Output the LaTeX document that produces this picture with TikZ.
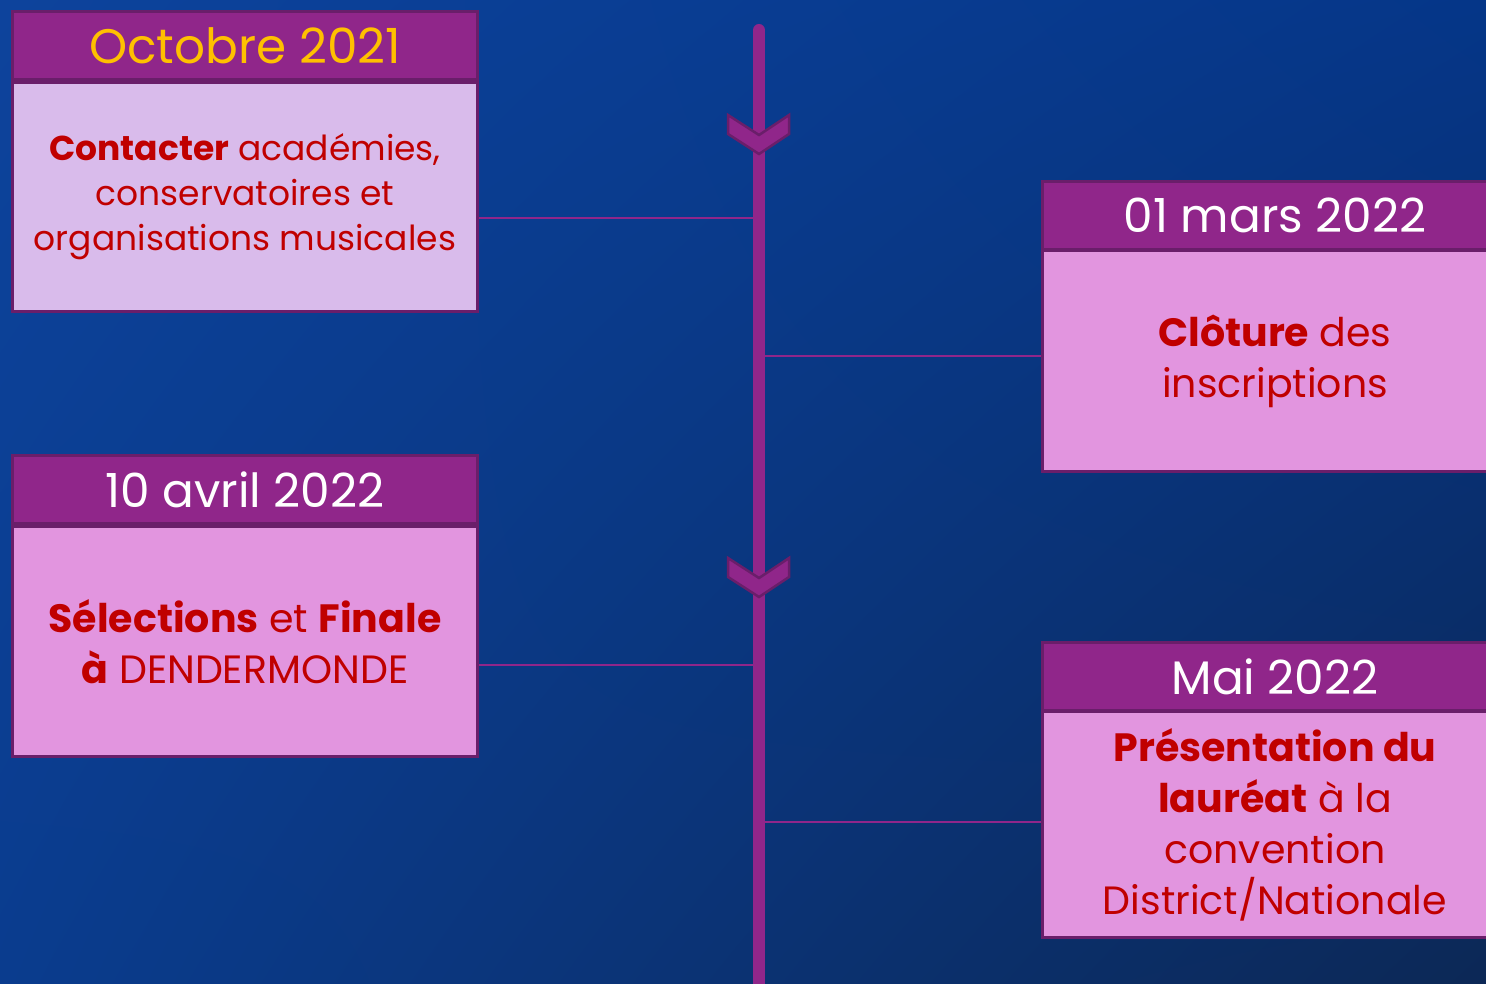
\documentclass[tikz,border=0pt]{standalone}
\usepackage{fontspec}
\setmainfont{Poppins}
\usetikzlibrary{shadings}
\definecolor{bgUL}{HTML}{0D439C}
\definecolor{bgUR}{HTML}{053688}
\definecolor{bgLL}{HTML}{0A3C8E}
\definecolor{bgLR}{HTML}{0C2856}
\definecolor{plum}{HTML}{90268A}
\definecolor{plumdark}{HTML}{6A1E6A}
\definecolor{lavender}{HTML}{D9BBEB}
\definecolor{pinkbody}{HTML}{E295DF}
\definecolor{txtred}{HTML}{C00000}
\definecolor{gold}{HTML}{FFC000}
\tikzset{
  hdr/.style={draw=plumdark, line width=3pt, fill=plum, minimum width=465, minimum height=68, inner sep=0pt, text=white, font=\fontsize{47}{52}\selectfont, anchor=north west},
  bodybox/.style={draw=plumdark, line width=3pt, fill=pinkbody, minimum width=465, inner sep=0pt, text=txtred, align=center, anchor=north west, font=\fontsize{39.5}{51}\selectfont},
  link/.style={draw=plum, line width=2pt},
  chev/.style={fill=plum, draw=plumdark, line width=2.5pt, line join=miter}
}
\begin{document}
\begin{tikzpicture}[x=1pt,y=-1pt]
\clip (0,0) rectangle (1486,984);
\shade[upper left=bgUL, upper right=bgUR, lower left=bgLL, lower right=bgLR] (0,0) rectangle (1486,984);

% timeline
\coordinate (ttop) at (759,30);
\coordinate (tbot) at (759,1000);
\draw[plum, line width=12pt, line cap=round] (ttop) -- (tbot);

% chevrons
\draw[chev] (728,115) -- (759,135) -- (789,115) -- (789,134) -- (759,154) -- (728,134) -- cycle;
\draw[chev] (728,558) -- (759,578) -- (789,558) -- (789,577) -- (759,597) -- (728,577) -- cycle;

% timeline anchor points
\coordinate (c1) at (753,218);
\coordinate (c2) at (765,356);
\coordinate (c3) at (753,665);
\coordinate (c4) at (765,822);

% box 1
\node[bodybox, fill=lavender, minimum height=229, font=\fontsize{34.5}{45}\selectfont] (b1) at (11,81) {\textbf{Contacter} académies,\\conservatoires et\\organisations musicales};
\node[hdr, text=gold, font=\fontsize{48.5}{52}\selectfont] (h1) at (11,10) {Octobre 2021};

% box 2
\node[bodybox, minimum height=221] (b2) at (1041,249) {\textbf{Clôture} des\\inscriptions};
\node[hdr] (h2) at (1041,180) {01 mars 2022};

% box 3
\node[bodybox, minimum height=230] (b3) at (11,525) {\textbf{Sélections} et \textbf{Finale}\\\textbf{à} DENDERMONDE};
\node[hdr] (h3) at (11,454) {10 avril 2022};

% box 4
\node[bodybox, minimum height=226] (b4) at (1041,710) {\textbf{Présentation du}\\\textbf{lauréat} à la\\convention\\District/Nationale};
\node[hdr] (h4) at (1041,641) {Mai 2022};

% connectors
\draw[link] (b1.east |- c1) -- (c1);
\draw[link] (c2) -- (b2.west |- c2);
\draw[link] (b3.east |- c3) -- (c3);
\draw[link] (c4) -- (b4.west |- c4);
\end{tikzpicture}
\end{document}
